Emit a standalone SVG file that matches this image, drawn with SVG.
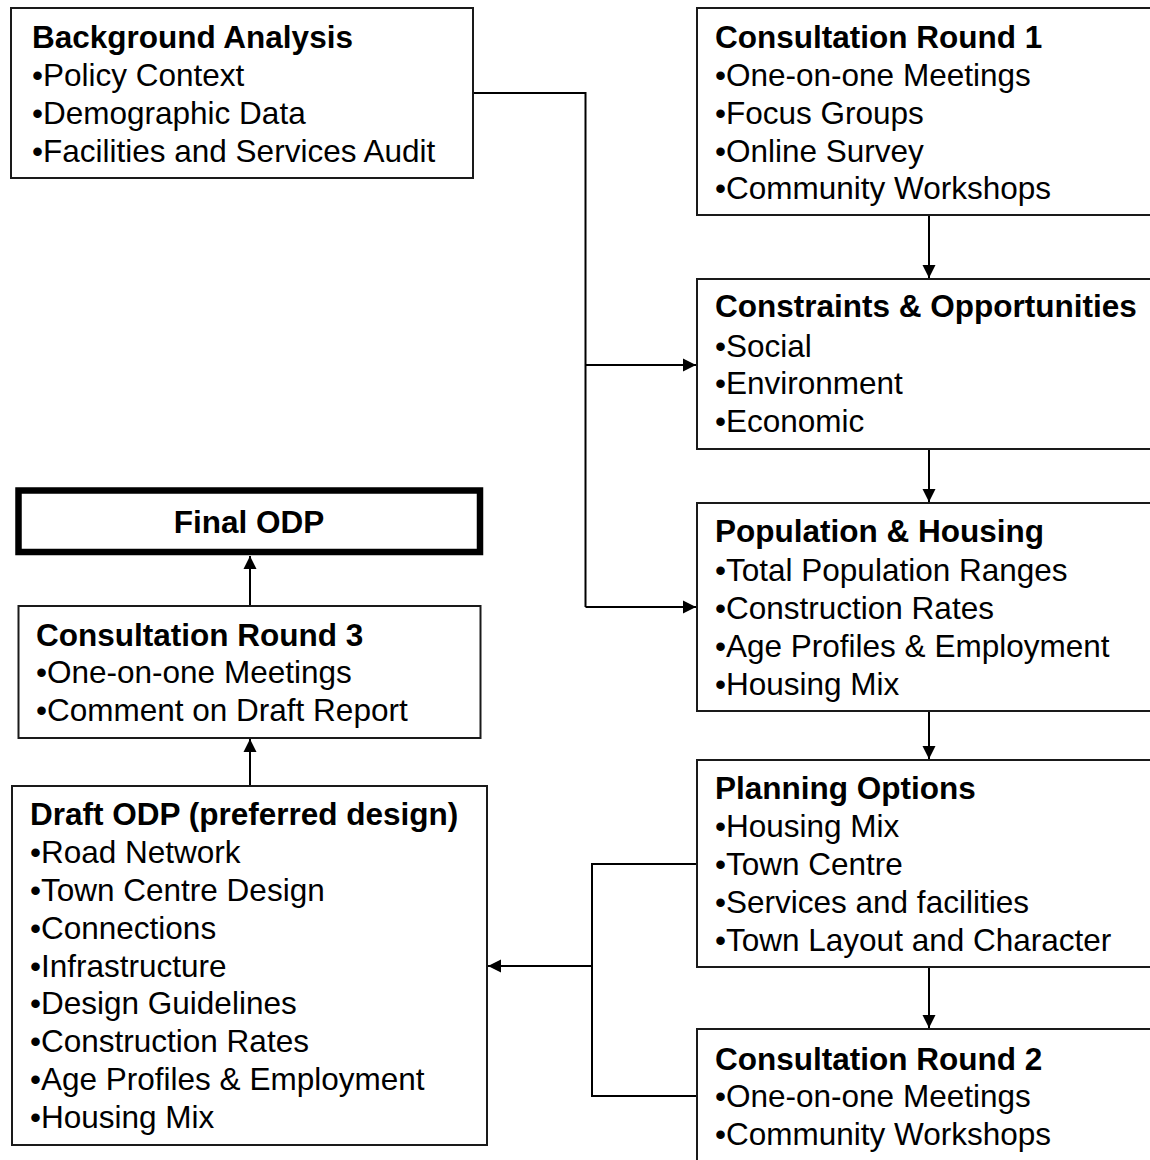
<svg xmlns="http://www.w3.org/2000/svg" width="1150" height="1160" viewBox="0 0 1150 1160">
<style>
.box{fill:#fff;stroke:#1a1a1a;stroke-width:2}
.final{fill:#fff;stroke:#000;stroke-width:6.5}
.t{font-family:"Liberation Sans",Arial,sans-serif;font-size:31.5px;font-weight:bold;fill:#000}
.i{font-family:"Liberation Sans",Arial,sans-serif;font-size:31.5px;fill:#000}
.c{fill:none;stroke:#000;stroke-width:2}
</style>
<defs>
<marker id="ah" markerUnits="userSpaceOnUse" markerWidth="15" markerHeight="15" viewBox="0 0 15 15" refX="14" refY="7.5" orient="auto">
<path d="M1,1 L14,7.5 L1,14 Z" fill="#000"/>
</marker>
</defs>
<g id="connectors">
<path class="c" d="M473,93 H585.5 V607"/>
<path class="c" d="M585.5,365 H696" marker-end="url(#ah)"/>
<path class="c" d="M585.5,607 H696" marker-end="url(#ah)"/>
<path class="c" d="M929,215 V278" marker-end="url(#ah)"/>
<path class="c" d="M929,449 V502" marker-end="url(#ah)"/>
<path class="c" d="M929,711 V759" marker-end="url(#ah)"/>
<path class="c" d="M929,967 V1028" marker-end="url(#ah)"/>
<path class="c" d="M697,864 H592 V1096 H697"/>
<path class="c" d="M592,966 H488" marker-end="url(#ah)"/>
<path class="c" d="M250,786 V739" marker-end="url(#ah)"/>
<path class="c" d="M250,606 V556" marker-end="url(#ah)"/>
</g>
<g id="background-analysis">
<rect class="box" x="11" y="8" width="462" height="170"/>
<text class="t" x="32" y="48">Background Analysis</text>
<text class="i" x="32" y="86">•Policy Context</text>
<text class="i" x="32" y="124">•Demographic Data</text>
<text class="i" x="32" y="162">•Facilities and Services Audit</text>
</g>
<g id="consultation-round-1">
<rect class="box" x="697" y="8" width="460" height="207"/>
<text class="t" x="715" y="48">Consultation Round 1</text>
<text class="i" x="715" y="86">•One-on-one Meetings</text>
<text class="i" x="715" y="124">•Focus Groups</text>
<text class="i" x="715" y="162">•Online Survey</text>
<text class="i" x="715" y="199">•Community Workshops</text>
</g>
<g id="constraints-opportunities">
<rect class="box" x="697" y="279" width="460" height="170"/>
<text class="t" x="715" y="317">Constraints &amp; Opportunities</text>
<text class="i" x="715" y="357">•Social</text>
<text class="i" x="715" y="394">•Environment</text>
<text class="i" x="715" y="432">•Economic</text>
</g>
<g id="population-housing">
<rect class="box" x="697" y="503" width="460" height="208"/>
<text class="t" x="715" y="542">Population &amp; Housing</text>
<text class="i" x="715" y="581">•Total Population Ranges</text>
<text class="i" x="715" y="619">•Construction Rates</text>
<text class="i" x="715" y="657">•Age Profiles &amp; Employment</text>
<text class="i" x="715" y="695">•Housing Mix</text>
</g>
<g id="planning-options">
<rect class="box" x="697" y="760" width="460" height="207"/>
<text class="t" x="715" y="799">Planning Options</text>
<text class="i" x="715" y="837">•Housing Mix</text>
<text class="i" x="715" y="875">•Town Centre</text>
<text class="i" x="715" y="913">•Services and facilities</text>
<text class="i" x="715" y="951">•Town Layout and Character</text>
</g>
<g id="consultation-round-2">
<rect class="box" x="697" y="1029" width="460" height="150"/>
<text class="t" x="715" y="1070">Consultation Round 2</text>
<text class="i" x="715" y="1107">•One-on-one Meetings</text>
<text class="i" x="715" y="1145">•Community Workshops</text>
</g>
<g id="draft-odp">
<rect class="box" x="12" y="786" width="475" height="359"/>
<text class="t" x="30" y="825">Draft ODP (preferred design)</text>
<text class="i" x="30" y="863">•Road Network</text>
<text class="i" x="30" y="901">•Town Centre Design</text>
<text class="i" x="30" y="939">•Connections</text>
<text class="i" x="30" y="977">•Infrastructure</text>
<text class="i" x="30" y="1014">•Design Guidelines</text>
<text class="i" x="30" y="1052">•Construction Rates</text>
<text class="i" x="30" y="1090">•Age Profiles &amp; Employment</text>
<text class="i" x="30" y="1128">•Housing Mix</text>
</g>
<g id="consultation-round-3">
<rect class="box" x="18.5" y="606" width="462" height="132"/>
<text class="t" x="36" y="646">Consultation Round 3</text>
<text class="i" x="36" y="683">•One-on-one Meetings</text>
<text class="i" x="36" y="721">•Comment on Draft Report</text>
</g>
<g id="final-odp">
<rect class="final" x="18.5" y="490.5" width="461.5" height="61.5"/>
<text class="t" x="249" y="533" text-anchor="middle">Final ODP</text>
</g>
</svg>
